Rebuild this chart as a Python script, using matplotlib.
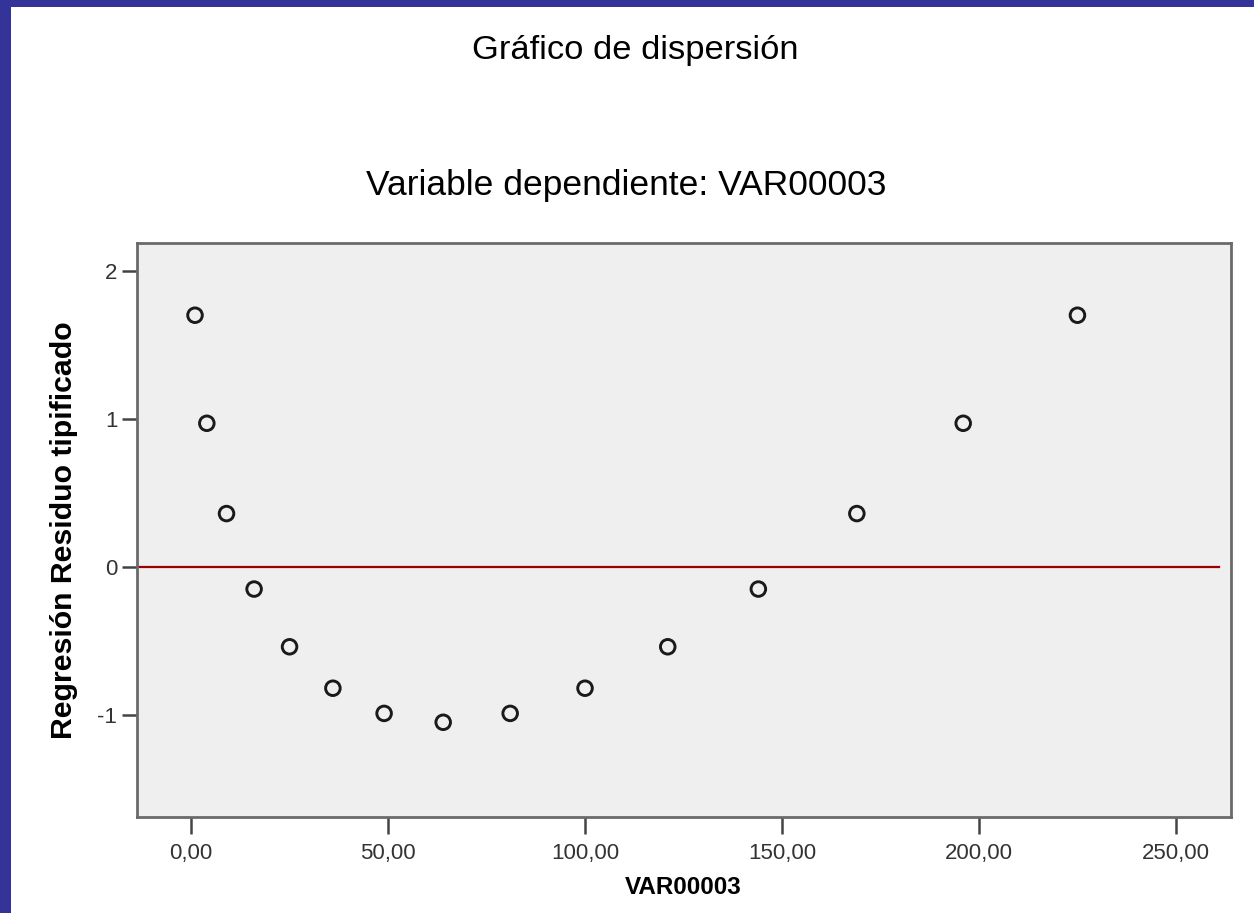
import matplotlib
matplotlib.use("Agg")
import matplotlib.pyplot as plt
from matplotlib.patches import Rectangle

# Data
var00003 = [1, 4, 9, 16, 25, 36, 49, 64, 81, 100, 121, 144, 169, 196, 225]
residuo_tipificado = [1.70, 0.97, 0.36, -0.15, -0.54, -0.82, -0.99, -1.05,
                      -0.99, -0.82, -0.54, -0.15, 0.36, 0.97, 1.70]
x_ticks = [0, 50, 100, 150, 200, 250]
x_tick_labels = ["0,00", "50,00", "100,00", "150,00", "200,00", "250,00"]
y_ticks = [-1, 0, 1, 2]
y_tick_labels = ["-1", "0", "1", "2"]
ref_line_x = [-13.8, 261]
ref_line_y = [0, 0]

plt.rcParams['font.family'] = ['Liberation Sans', 'DejaVu Sans']

fig = plt.figure(figsize=(12.54, 9.13), dpi=100)
fig.patch.set_facecolor("white")

W, H = 1254, 913
border = "#333399"
# left and top borders
fig.patches.append(Rectangle((0, 0), 11 / W, 1, transform=fig.transFigure,
                             facecolor=border, edgecolor="none", zorder=0))
fig.patches.append(Rectangle((0, 1 - 7 / H), 1, 7 / H, transform=fig.transFigure,
                             facecolor=border, edgecolor="none", zorder=0))

left, right = 136.7 / W, 1230.7 / W
bottom, top = (H - 817) / H, (H - 242.7) / H
ax = fig.add_axes([left, bottom, right - left, top - bottom])
ax.set_facecolor("#efefef")

ax.plot(ref_line_x, ref_line_y, color="#9a0000", lw=1.6, zorder=2)
ax.scatter(var00003, residuo_tipificado, s=110, facecolors="none",
           edgecolors="#1a1a1a", linewidths=2.1, zorder=3)

ax.set_xlim(-13.8, 263.9)
ax.set_ylim(-1.69, 2.19)
ax.set_xticks(x_ticks)
ax.set_xticklabels(x_tick_labels)
ax.set_yticks(y_ticks)
ax.set_yticklabels(y_tick_labels)

for sp in ax.spines.values():
    sp.set_color("#6a6a6a")
    sp.set_linewidth(2.0)

ax.tick_params(axis="both", width=1.8, color="#444444",
               labelsize=16, labelcolor="#333333")
ax.tick_params(axis="x", length=12, pad=7)
ax.tick_params(axis="y", length=11, pad=3)

ax.set_xlabel("VAR00003", fontsize=17.5, fontweight="bold", va="center")
ax.set_ylabel("Regresión Residuo tipificado", fontsize=21.8, fontweight="bold",
              va="center")
ax_h_px = 817 - 242.7
ax_w_px = 1230.7 - 136.7
ax.xaxis.set_label_coords(0.5, (913 - 887 - 96) / ax_h_px)
ax.yaxis.set_label_coords((64 - 136.7) / ax_w_px, 0.5)

fig.text(635 / W, 1 - 50 / H, "Gráfico de dispersión", ha="center", va="center",
         fontsize=24.8, color="black")
fig.text(626 / W, 1 - 186 / H, "Variable dependiente: VAR00003", ha="center",
         va="center", fontsize=25.5, color="black")

fig.savefig("out.png", dpi=100)
